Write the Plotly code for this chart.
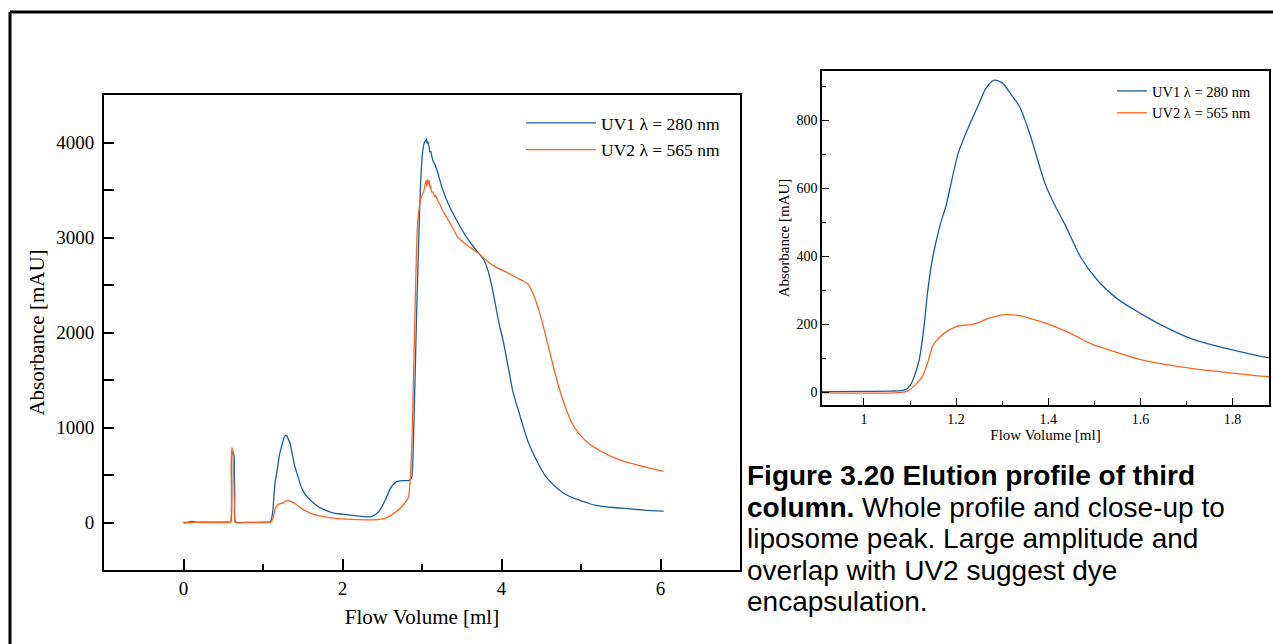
import plotly.graph_objects as go

# ---------------- data ----------------
uv1_x = [0.00, 0.05, 0.10, 0.15, 0.30, 0.55, 0.595, 0.605, 0.615, 0.625, 0.635, 0.645, 0.655,
         0.80, 1.00, 1.06, 1.08, 1.09, 1.10, 1.11, 1.12, 1.13, 1.138, 1.147, 1.156, 1.167, 1.178,
         1.19, 1.205, 1.228, 1.25, 1.265, 1.283, 1.30, 1.32, 1.337, 1.36, 1.38, 1.395, 1.418,
         1.438, 1.471, 1.511, 1.55, 1.598, 1.65, 1.714, 1.80, 1.878, 1.95, 2.00, 2.10, 2.20,
         2.30, 2.36, 2.43, 2.50, 2.55, 2.60, 2.65, 2.68, 2.75, 2.84, 2.87, 2.90, 2.93, 2.96,
         2.98, 3.006, 3.03, 3.045, 3.056, 3.065, 3.075, 3.09, 3.10, 3.11, 3.125, 3.14, 3.15,
         3.19, 3.25, 3.33, 3.45, 3.56, 3.65, 3.72, 3.78, 3.83, 3.88, 3.93, 3.97, 4.02, 4.10,
         4.14, 4.20, 4.33, 4.45, 4.56, 4.65, 4.73, 4.81, 4.90, 4.98, 5.10, 5.19, 5.40, 5.61,
         5.80, 6.04]
uv1_y = [0, 2, 12, 5, 3, 3, 5, 700, 745, 735, 700, 300, 5,
         2, 3, 4, 5, 8, 20, 50, 96, 190, 293, 380, 440, 500, 548,
         620, 705, 783, 850, 895, 918, 910, 875, 842, 760, 670, 607, 540,
         489, 396, 323, 275, 234, 195, 156, 125, 102, 92, 88, 78, 68,
         60, 62, 91, 170, 260, 354, 410, 431, 440, 442, 470, 1100, 2126, 3000,
         3530, 3884, 4000, 4020, 4039, 3990, 4010, 3950, 3900, 3910, 3850, 3800, 3790,
         3705, 3530, 3355, 3160, 3003, 2900, 2828, 2760, 2653, 2480, 2266, 2091, 1916, 1565,
         1389, 1214, 860, 640, 480, 400, 340, 295, 260, 235, 200, 180, 158, 144,
         130, 119]

uv2_x = [0.00, 0.10, 0.30, 0.55, 0.59, 0.60, 0.608, 0.615, 0.625, 0.64, 0.65, 0.80, 1.05,
         1.08, 1.093, 1.11, 1.127, 1.14, 1.149, 1.156, 1.175, 1.199, 1.22, 1.235, 1.25, 1.27,
         1.30, 1.33, 1.36, 1.402, 1.45, 1.496, 1.55, 1.598, 1.65, 1.714, 1.80, 1.878, 1.95,
         2.05, 2.20, 2.39, 2.48, 2.55, 2.62, 2.72, 2.78, 2.83, 2.85, 2.875, 2.90, 2.92, 2.94,
         2.96, 2.99, 3.02, 3.04, 3.05, 3.06, 3.07, 3.08, 3.09, 3.10, 3.11, 3.12, 3.14, 3.16,
         3.17, 3.20, 3.22, 3.25, 3.31, 3.38, 3.45, 3.55, 3.65, 3.72, 3.82, 3.93, 4.05, 4.18,
         4.28, 4.33, 4.38, 4.43, 4.50, 4.56, 4.65, 4.73, 4.81, 4.89, 4.98, 5.10, 5.25, 5.40,
         5.55, 5.73, 5.90, 6.04]
uv2_y = [-5, 0, 0, 0, 0, 600, 785, 770, 700, 200, 0, 0, -2,
         0, 3, 20, 47, 95, 136, 150, 175, 193, 198, 200, 206, 218,
         228, 227, 218, 200, 172, 141, 117, 97, 83, 70, 57, 46, 40,
         36, 30, 28, 35, 49, 80, 144, 200, 267, 430, 900, 1775, 2500, 3074,
         3280, 3424, 3480, 3560, 3600, 3540, 3610, 3560, 3600, 3520, 3545, 3480, 3477, 3430,
         3440, 3380, 3360, 3300, 3214, 3110, 3003, 2930, 2870, 2828, 2750, 2688, 2640, 2582,
         2540, 2512, 2440, 2337, 2150, 1951, 1650, 1400, 1200, 1039, 930, 828, 750, 688,
         640, 600, 565, 537]

series_names = ["UV1 λ = 280 nm", "UV2 λ = 565 nm"]
series_colors = ["#1b5f9e", "#ff6420"]

caption_lines = [
    "<b>Figure 3.20 Elution profile of third</b>",
    "<b>column.</b> Whole profile and close-up to",
    "liposome peak. Large amplitude and",
    "overlap with UV2 suggest dye",
    "encapsulation.",
]

# ---------------- figure ----------------
W, H = 1273, 644
SERIF = "Liberation Serif, Times New Roman, serif"
SANS = "Liberation Sans, Arial, Helvetica, sans-serif"

fig = go.Figure()
xs = [uv1_x, uv2_x]
ys = [uv1_y, uv2_y]
for i in range(2):
    fig.add_trace(go.Scatter(x=xs[i], y=ys[i], mode="lines", name=series_names[i],
                             line=dict(color=series_colors[i], width=1.3,
                                       shape="spline", smoothing=0.5),
                             xaxis="x", yaxis="y", legend="legend",
                             legendgroup="m%d" % i))
for i in range(2):
    fig.add_trace(go.Scatter(x=xs[i], y=ys[i], mode="lines", name=series_names[i],
                             line=dict(color=series_colors[i], width=1.3,
                                       shape="spline", smoothing=0.8),
                             xaxis="x2", yaxis="y2", legend="legend2"))

def px_x(p):
    return p / W

def px_y(p):
    return 1 - p / H

axis_common = dict(showline=True, linecolor="black", mirror=True, showgrid=False,
                   zeroline=False, ticks="inside", tickcolor="black")

fig.update_layout(
    width=W, height=H,
    margin=dict(l=0, r=0, t=0, b=0),
    paper_bgcolor="white", plot_bgcolor="white",
    font=dict(family=SERIF, color="black"),
    xaxis=dict(domain=[px_x(104), px_x(740)], range=[-1, 7], tick0=0, dtick=2,
               ticklen=11, tickwidth=1.5, linewidth=2,
               minor=dict(dtick=1, ticklen=6, tickwidth=1.5, ticks="inside", tickcolor="black"),
               tickfont=dict(size=19, family=SERIF),
               title=dict(text="Flow Volume [ml]", font=dict(size=21, family=SERIF), standoff=12),
               anchor="y", **axis_common),
    yaxis=dict(domain=[px_y(570), px_y(95)], range=[-500, 4500], tick0=0, dtick=1000,
               tickformat="d", ticklen=10, tickwidth=1.5, linewidth=2, ticklabelstandoff=4,
               minor=dict(dtick=500, ticklen=10, tickwidth=1.5, ticks="inside", tickcolor="black"),
               tickfont=dict(size=19, family=SERIF),
               title=dict(text="Absorbance [mAU]", font=dict(size=21, family=SERIF), standoff=6),
               anchor="x", **axis_common),
    xaxis2=dict(domain=[px_x(822), px_x(1269)], range=[0.909, 1.879], tick0=0, dtick=0.2,
                ticklen=7, tickwidth=1.2, linewidth=1.5,
                minor=dict(dtick=0.1, ticklen=4, tickwidth=1.2, ticks="inside", tickcolor="black"),
                tickfont=dict(size=14, family=SERIF),
                title=dict(text="Flow Volume [ml]", font=dict(size=15, family=SERIF), standoff=4),
                anchor="y2", **axis_common),
    yaxis2=dict(domain=[px_y(405), px_y(71)], range=[-37, 945], tick0=0, dtick=200,
                ticklen=7, tickwidth=1.2, linewidth=1.5,
                minor=dict(dtick=100, ticklen=4, tickwidth=1.2, ticks="inside", tickcolor="black"),
                tickfont=dict(size=14, family=SERIF),
                title=dict(text="Absorbance [mAU]", font=dict(size=15, family=SERIF), standoff=3),
                anchor="x2", **axis_common),
    legend=dict(x=px_x(521), y=px_y(105), xanchor="left", yanchor="top",
                bgcolor="rgba(0,0,0,0)", font=dict(size=17.5, family=SERIF),
                itemwidth=70, tracegroupgap=1, traceorder="grouped"),
    legend2=dict(x=px_x(1112), y=px_y(75), xanchor="left", yanchor="top",
                 bgcolor="rgba(0,0,0,0)", font=dict(size=14.5, family=SERIF)),
    showlegend=True,
)

# outer frame of the figure panel
fig.add_shape(type="line", xref="paper", yref="paper", x0=px_x(10), x1=1.0,
              y0=px_y(12), y1=px_y(12), line=dict(color="black", width=3))
fig.add_shape(type="line", xref="paper", yref="paper", x0=px_x(10), x1=px_x(10),
              y0=px_y(12), y1=0, line=dict(color="black", width=3))

# caption
line_y = [475, 507, 538, 570, 601]
for txt, yy in zip(caption_lines, line_y):
    fig.add_annotation(text=txt, xref="paper", yref="paper", x=px_x(745), y=px_y(yy),
                       xanchor="left", yanchor="middle", showarrow=False,
                       font=dict(family=SANS, size=28, color="black"))

fig.write_html("out.html", config={"displayModeBar": False},
               post_script="document.body.style.margin='0';")
